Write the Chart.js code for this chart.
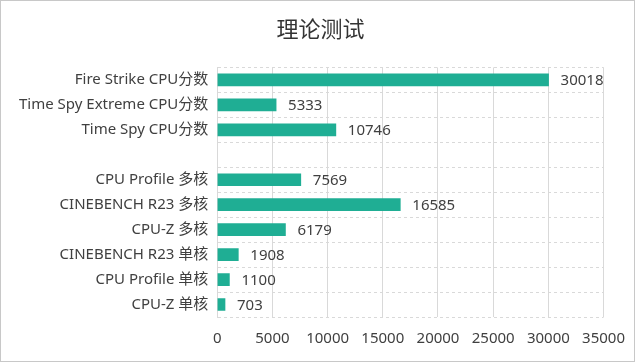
<!DOCTYPE html>
<html>
<head>
<meta charset="utf-8">
<script src="https://cdn.jsdelivr.net/npm/chart.js@4/dist/chart.umd.min.js"></script>
<style>
html,body{margin:0;padding:0;background:#fff;}
#wrap{position:relative;width:635px;height:362px;box-sizing:border-box;border:1px solid #c8c8c8;}
#wrap canvas{position:absolute;left:0;top:0;}
</style>
</head>
<body>
<div id="wrap"><canvas id="c" width="633" height="360"></canvas></div>
<script>
var labels=['Fire Strike CPU分数','Time Spy Extreme CPU分数','Time Spy CPU分数','','CPU Profile 多核','CINEBENCH R23 多核','CPU-Z 多核','CINEBENCH R23 单核','CPU Profile 单核','CPU-Z 单核'];
var scores=[30018,5333,10746,null,7569,16585,6179,1908,1100,703];
var xTicks=[0,5000,10000,15000,20000,25000,30000,35000];

var FONT='"Noto Sans","Noto Sans CJK SC",sans-serif';

// value labels to the right of each bar
var barLabels={
    id:'barLabels',
    afterDatasetsDraw:function(chart){
        var ctx=chart.ctx,meta=chart.getDatasetMeta(0);
        ctx.save();
        ctx.font='15px '+FONT;
        ctx.fillStyle='#404040';
        ctx.textAlign='left';
        ctx.textBaseline='middle';
        meta.data.forEach(function(el,i){
            if(scores[i]==null)return;
            ctx.fillText(String(scores[i]),el.x+12,el.y+1);
        });
        ctx.restore();
    }
};

new Chart(document.getElementById('c'),{
    type:'bar',
    data:{labels:labels,datasets:[{data:scores,backgroundColor:'#1fae94',barThickness:12}]},
    options:{
        indexAxis:'y',
        responsive:false,
        animation:false,
        layout:{padding:{left:9,right:3,top:4,bottom:0}},
        plugins:{
            legend:{display:false},
            tooltip:{enabled:false},
            title:{display:true,text:'理论测试',color:'#333',font:{family:FONT,size:22,weight:'normal'},padding:{top:13,bottom:23}}
        },
        scales:{
            x:{
                min:0,max:35000,
                afterBuildTicks:function(ax){ax.ticks=xTicks.map(function(v){return {value:v};});},
                afterFit:function(ax){ax.paddingRight=Math.max(0,ax.paddingRight-4);},
                grid:{color:'#d9d9d9',drawTicks:false,borderDash:[3,3]},
                border:{display:false},
                ticks:{color:'#404040',font:{family:FONT,size:15},padding:13,maxRotation:0,
                    callback:function(v){return String(v);}}
            },
            y:{
                grid:{color:'#d9d9d9',drawTicks:false,offset:true,borderDash:[3,3]},
                border:{display:true,color:'#d9d9d9',dash:[3,3]},
                ticks:{color:'#404040',font:{family:FONT,size:15},padding:9,autoSkip:false}
            }
        }
    },
    plugins:[barLabels]
});
</script>
</body>
</html>
